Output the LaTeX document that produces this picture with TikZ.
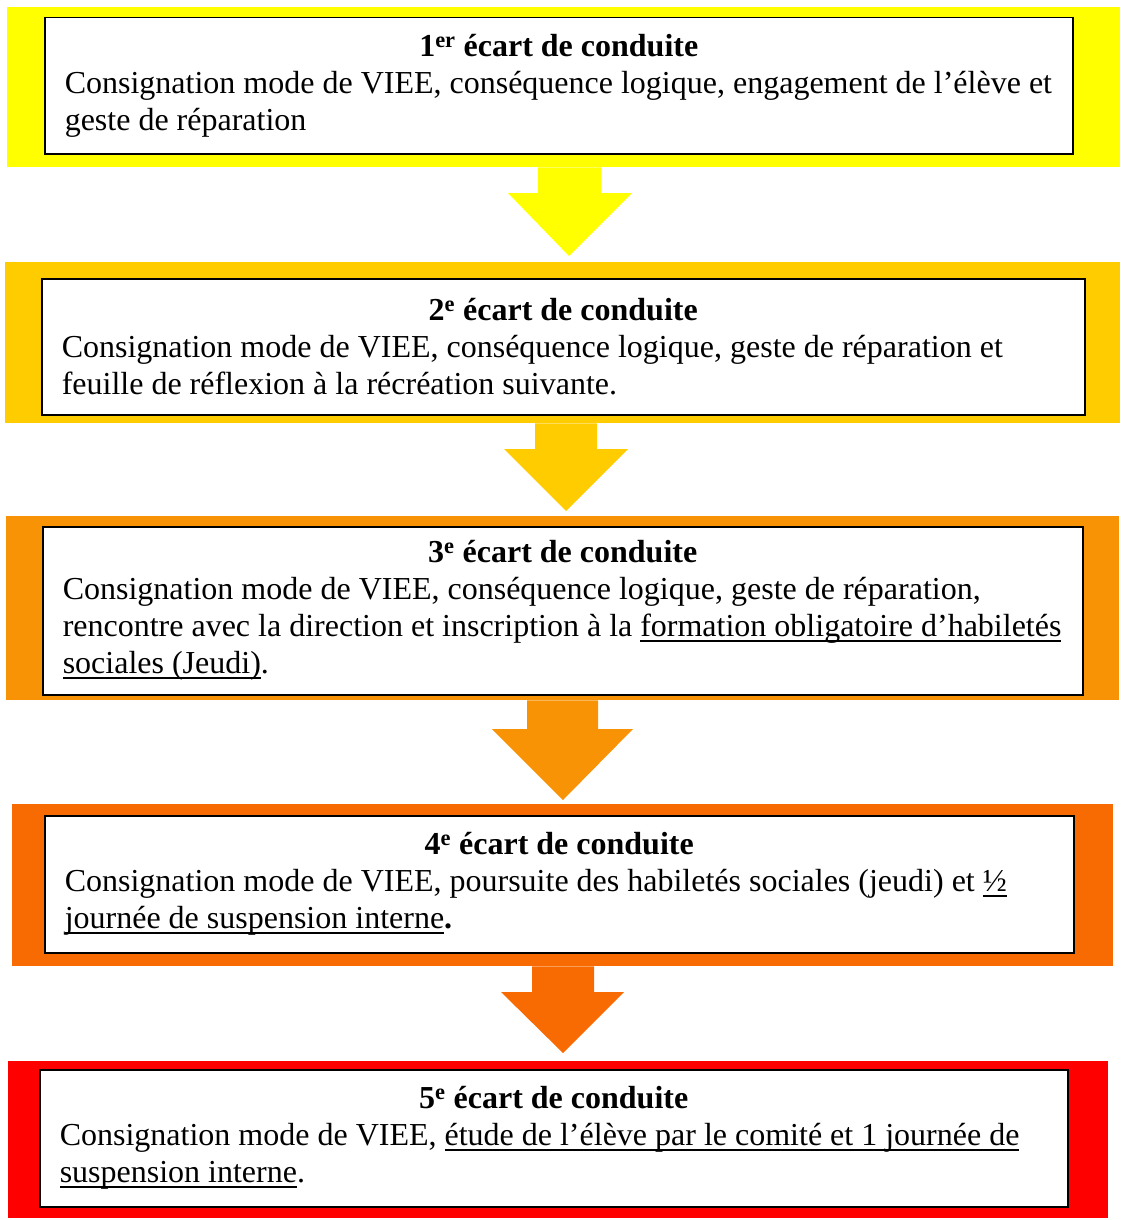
\documentclass[tikz,border=0pt]{standalone}
\usepackage{fontspec}
\setmainfont{Liberation Serif}
\usepackage{tikz}
\usetikzlibrary{calc, positioning}

\definecolor{lev1}{HTML}{FFFF00}
\definecolor{lev2}{HTML}{FFCC00}
\definecolor{lev3}{HTML}{F89306}
\definecolor{lev4}{HTML}{F86A02}
\definecolor{lev5}{HTML}{FF0000}

% underline at a fixed depth, as in the word processor
\newcommand{\undl}[1]{\leavevmode\setbox0\hbox{#1}\rlap{\vrule height -3.5pt depth 5.5pt width \wd0}\box0}
% centred title line
\newcommand{\steptitle}[1]{\hfill\textbf{#1}\hfill\mbox{}}

\begin{document}
\begin{tikzpicture}[x=1pt, y=1pt,
  every node/.style={font=\fontsize{32}{37}\selectfont},
  band/.style={anchor=north west, inner sep=0pt},
  stepbox/.style={anchor=north west, draw=black, line width=1.5pt, fill=white,
    inner xsep=20pt, inner ysep=0pt, align=flush left}]
  \useasboundingbox[fill=white] (0,0) rectangle (1120,-1220);

  % Bands
  \node[band, fill=lev1, minimum width=1113pt, minimum height=160pt] (band1) at (7,-7) {};
  \node[band, fill=lev2, minimum width=1115pt, minimum height=161pt] (band2) at (5,-262) {};
  \node[band, fill=lev3, minimum width=1113pt, minimum height=184pt] (band3) at (6,-516) {};
  \node[band, fill=lev4, minimum width=1101pt, minimum height=162pt] (band4) at (12,-804) {};
  \node[band, fill=lev5, minimum width=1100pt, minimum height=157pt] (band5) at (8,-1061) {};

  % Boxes
  \node[stepbox, text width=988pt, minimum height=136pt] (step1) at (44,-17)
    {\steptitle{1\textsuperscript{er} écart de conduite}\\
     Consignation mode de VIEE, conséquence logique, engagement de l’élève et\\
     geste de réparation};
  \node[stepbox, text width=1003pt, minimum height=136pt] (step2) at (41,-278)
    {\steptitle{2\textsuperscript{e} écart de conduite}\\
     Consignation mode de VIEE, conséquence logique, geste de réparation et\\
     feuille de réflexion à la récréation suivante.};
  \node[stepbox, text width=1000pt, minimum height=168pt] (step3) at (42,-526)
    {\steptitle{3\textsuperscript{e} écart de conduite}\\
     Consignation mode de VIEE, conséquence logique, geste de réparation,\\
     rencontre avec la direction et inscription à la \undl{formation obligatoire d’habiletés}\\
     \undl{sociales (Jeudi)}.};
  \node[stepbox, text width=989pt, minimum height=137pt] (step4) at (44,-815)
    {\steptitle{4\textsuperscript{e} écart de conduite}\\
     Consignation mode de VIEE, poursuite des habiletés sociales (jeudi) et \undl{½}\\
     \undl{journée de suspension interne}\textbf{.}};
  \node[stepbox, text width=988pt, minimum height=137pt] (step5) at (39,-1069)
    {\steptitle{5\textsuperscript{e} écart de conduite}\\
     Consignation mode de VIEE, \undl{étude de l’élève par le comité et 1 journée de}\\
     \undl{suspension interne}.};

  % Arrows
  \fill[lev1] (538,0 |- band1.south) -- (538,-193) -- (508,-193)
    -- ($(569,0 |- band2.north)+(0,6)$) -- (632,-193) -- (601,-193) -- (601,0 |- band1.south) -- cycle;
  \fill[lev2] (535,0 |- band2.south) -- (535,-449) -- (504,-449)
    -- ($(566,0 |- band3.north)+(0,5)$) -- (628,-449) -- (597,-449) -- (597,0 |- band2.south) -- cycle;
  \fill[lev3] (527,0 |- band3.south) -- (527,-729) -- (492,-729)
    -- ($(563,0 |- band4.north)+(0,4)$) -- (633,-729) -- (598,-729) -- (598,0 |- band3.south) -- cycle;
  \fill[lev4] (532,0 |- band4.south) -- (532,-992) -- (501,-992)
    -- ($(563,0 |- band5.north)+(0,8)$) -- (624,-992) -- (594,-992) -- (594,0 |- band4.south) -- cycle;
\end{tikzpicture}
\end{document}
